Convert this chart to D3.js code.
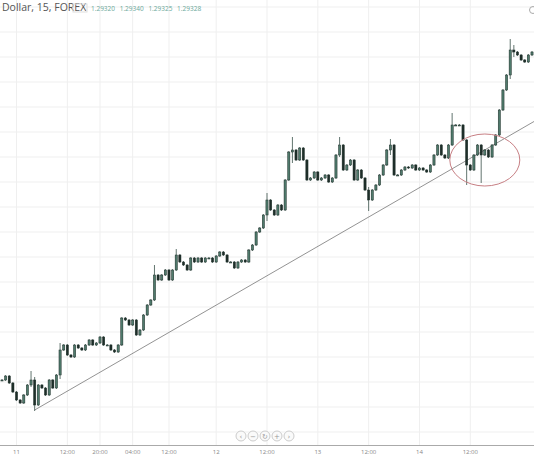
<!DOCTYPE html>
<html><head><meta charset="utf-8">
<script src="https://cdn.jsdelivr.net/npm/d3@7"></script>
<style>body{margin:0;background:#fff}svg{display:block}</style>
</head><body>
<svg id="chart" width="534" height="456"></svg>
<script>
// 15 minute closes
const closes = [1.27350,1.27370,1.27335,1.27290,1.27250,1.27235,1.27275,1.27325,1.27350,1.27225,
1.27325,1.27310,1.27275,1.27350,1.27310,1.27375,1.27500,1.27525,1.27475,1.27465,
1.27525,1.27510,1.27500,1.27525,1.27550,1.27525,1.27535,1.27565,1.27525,1.27525,
1.27500,1.27490,1.27525,1.27660,1.27650,1.27625,1.27650,1.27575,1.27600,1.27675,
1.27725,1.27750,1.27875,1.27850,1.27875,1.27900,1.27850,1.27900,1.27975,1.27940,
1.27925,1.27900,1.27960,1.27940,1.27960,1.27940,1.27960,1.27960,1.27940,1.27970,
1.27990,1.27975,1.27940,1.27940,1.27910,1.27940,1.27950,1.27940,1.28000,1.28025,
1.28090,1.28110,1.28175,1.28250,1.28200,1.28175,1.28225,1.28200,1.28350,1.28490,
1.28500,1.28450,1.28510,1.28450,1.28350,1.28360,1.28390,1.28350,1.28360,1.28375,
1.28340,1.28360,1.28475,1.28525,1.28400,1.28425,1.28450,1.28350,1.28400,1.28360,
1.28300,1.28250,1.28300,1.28325,1.28375,1.28425,1.28500,1.28525,1.28375,1.28375,
1.28400,1.28415,1.28410,1.28425,1.28400,1.28410,1.28400,1.28390,1.28425,1.28475,
1.28525,1.28475,1.28460,1.28525,1.28625,1.28625,1.28625,1.28550,1.28425,1.28400,
1.28475,1.28525,1.28475,1.28500,1.28465,1.28525,1.28575,1.28700,1.28800,1.28875,
1.29000,1.28990,1.28975,1.28950,1.28940,1.28975,1.28990];
// notable wick extremes: [index, high, low]
const wicks = [[8,1.27390,1.27320],[9,1.27360,1.27200],[16,1.27530,1.27360],[42,1.27920,1.27760],
[48,1.28000,1.27930],[73,1.28280,1.28150],[80,1.28560,1.28440],[93,1.28560,1.28470],[101,1.28310,1.28200],
[107,1.28550,1.28480],[124,1.28680,1.28600],[128,1.28440,1.28330],[132,1.28520,1.28340],
[140,1.29050,1.28860],[141,1.29020,1.28970]];
const tickLabels = ["11","12:00","20:00","04:00","12:00","12","12:00","13","12:00","14","12:00"];
const tickIndex = [4,18,27,36,46,59,73,87,101,115,129];
const hGrid = [1.29215,1.29090,1.28965,1.28840,1.28715,1.28590,1.28465,1.28340,1.28215,1.28090,1.27965,1.27840,1.27715,1.27590,1.27465,1.27340,1.27215,1.27090];
const trend = [[9,1.27200],[147,1.28650]];

const svg = d3.select("#chart");
const x = d3.scaleLinear().domain([0, closes.length - 1]).range([2, 532]);
const y = d3.scaleLinear().domain([1.2700, 1.2925]).range([450, 0]);

const candles = closes.map((c, i) => {
  const o = i ? closes[i - 1] : c;
  let h = Math.max(o, c), l = Math.min(o, c);
  const w = wicks.find(d => d[0] === i);
  if (w) { h = Math.max(h, w[1]); l = Math.min(l, w[2]); }
  return { i, o, c, h, l };
});

// grid
svg.append("g").selectAll("line").data(hGrid).join("line")
  .attr("x1", 0).attr("x2", 534).attr("y1", d => y(d)).attr("y2", d => y(d))
  .attr("stroke", "#efefef");
svg.append("g").selectAll("line").data(tickIndex).join("line")
  .attr("x1", d => x(d)).attr("x2", d => x(d)).attr("y1", 0).attr("y2", 445)
  .attr("stroke", "#efefef");

// trend line
svg.append("line")
  .attr("x1", x(trend[0][0])).attr("y1", y(trend[0][1]))
  .attr("x2", x(trend[1][0]) + 20).attr("y2", y(trend[1][1]) - 11)
  .attr("stroke", "#777").attr("stroke-width", 0.8);

// candles
const g = svg.append("g");
g.selectAll("line").data(candles).join("line")
  .attr("x1", d => x(d.i)).attr("x2", d => x(d.i))
  .attr("y1", d => y(d.h) - 1).attr("y2", d => y(d.l) + 1)
  .attr("stroke", "#3a524a").attr("stroke-width", 0.8);
g.selectAll("rect").data(candles).join("rect")
  .attr("x", d => x(d.i) - 1.1).attr("width", 2.2)
  .attr("y", d => y(Math.max(d.o, d.c)))
  .attr("height", d => Math.max(1, Math.abs(y(d.o) - y(d.c))))
  .attr("fill", d => d.c >= d.o ? "#4f7a6c" : "#1e2e29")
  .attr("stroke", "#1e2e29").attr("stroke-width", 0.5);

// highlight ellipse
svg.append("ellipse")
  .attr("cx", x(133)).attr("cy", y(1.28450)).attr("rx", 35).attr("ry", 26)
  .attr("fill", "none").attr("stroke", "#c77f84").attr("stroke-width", 1);

// header
svg.append("text").attr("x", 2).attr("y", 11).attr("font-family", "Open Sans")
  .attr("font-size", 10.5).attr("fill", "#555").text("Dollar, 15, FOREX");
svg.append("rect").attr("x", 73).attr("y", 4).attr("width", 14).attr("height", 8)
  .attr("fill", "none").attr("stroke", "#ddd");
svg.append("text").attr("x", 91).attr("y", 11).attr("font-family", "Open Sans")
  .attr("font-size", 6.5).attr("fill", "#6aa89a").attr("word-spacing", 3)
  .text("1.29320 1.29340 1.29325 1.29328");
svg.append("circle").attr("cx", 533).attr("cy", 10).attr("r", 3.5)
  .attr("fill", "none").attr("stroke", "#aaa");

// navigation buttons
const nav = ["‹", "−", "↻", "+", "›"];
const ng = svg.append("g").selectAll("g").data(nav).join("g")
  .attr("transform", (d, i) => `translate(${241 + i * 12},436)`);
ng.append("circle").attr("r", 5).attr("fill", "#fafafa").attr("stroke", "#ccc");
ng.append("text").attr("text-anchor", "middle").attr("dy", 2.5).attr("font-size", 7)
  .attr("fill", "#999").attr("font-family", "DejaVu Sans").text(d => d);

// time axis
svg.append("line").attr("x1", 0).attr("x2", 534).attr("y1", 445.5).attr("y2", 445.5)
  .attr("stroke", "#aaa");
svg.append("g").selectAll("text").data(tickLabels).join("text")
  .attr("x", (d, i) => x(tickIndex[i])).attr("y", 454).attr("text-anchor", "middle")
  .attr("font-family", "Open Sans").attr("font-size", 6).attr("fill", "#888").text(d => d);
</script>
</body></html>
